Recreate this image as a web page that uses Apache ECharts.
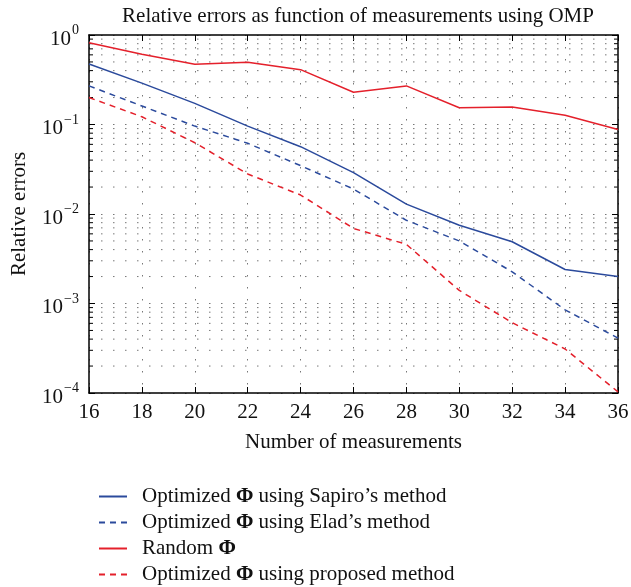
<!DOCTYPE html>
<html>
<head>
<meta charset="utf-8">
<script src="https://cdn.jsdelivr.net/npm/echarts@6/dist/echarts.min.js"></script>
<style>
  html, body { margin: 0; padding: 0; background: #fff; }
  #chart { width: 631px; height: 587px; }
</style>
</head>
<body>
<div id="chart"></div>
<script>
// values
const measurements = [16, 18, 20, 22, 24, 26, 28, 30, 32, 34, 36]
const sapiro = [0.474, 0.29, 0.172, 0.096, 0.0565, 0.029, 0.0129, 0.0075, 0.0049, 0.0024, 0.002]
const elad = [0.27, 0.161, 0.096, 0.0617, 0.0347, 0.019, 0.0085, 0.005, 0.00226, 0.00085, 0.00041]
const random = [0.82, 0.61, 0.47, 0.495, 0.41, 0.229, 0.27, 0.154, 0.157, 0.127, 0.088]
const proposed = [0.2, 0.122, 0.0626, 0.028, 0.0163, 0.0069, 0.00458, 0.0014, 0.00061, 0.00031, 0.000103]

const decades = [1e-4, 1e-3, 1e-2, 1e-1]
const minorSteps = [2, 3, 4, 5, 6, 7, 8, 9]
const exponentLabels = { '1': '0', '0.1': '−1', '0.01': '−2', '0.001': '−3', '0.0001': '−4' }

const names = [
  'Optimized Φ using Sapiro’s method',
  'Optimized Φ using Elad’s method',
  'Random Φ',
  'Optimized Φ using proposed method',
]

const RED = '#e4202b'
const BLUE = '#2b4a9c'
const FONT = 'Liberation Serif'
const FS = 21

const pairs = ys => measurements.map((x, i) => [x, ys[i]])
const minorVals = []
decades.forEach(d => minorSteps.forEach(m => minorVals.push([measurements[0], +(d * m).toPrecision(3)])))

const chart = echarts.init(document.getElementById('chart'))

const dotted = { color: '#777', type: [1.5, 10.5], width: 1 }

function lineSeries(name, data, color, dashed) {
  return {
    name,
    type: 'line',
    data: pairs(data),
    showSymbol: false,
    symbol: 'none',
    lineStyle: { color, width: 1.5, type: dashed ? [6, 5] : 'solid' },
    itemStyle: { color },
    silent: true,
    z: 5,
  }
}

const option = {
  animation: false,
  textStyle: { fontFamily: FONT },
  title: {
    text: 'Relative errors as function of measurements using OMP',
    left: 353,
    top: 1,
    textAlign: 'center',
    textStyle: { fontFamily: FONT, fontSize: FS, fontWeight: 'normal', color: '#111' },
  },
  grid: { left: 89, right: 13, top: 35, bottom: 194, outerBoundsMode: 'none', containLabel: false },
  legend: {
    orient: 'vertical',
    left: 98,
    top: 486,
    height: 120,
    padding: 0,
    itemWidth: 28,
    itemHeight: 14,
    itemGap: 5,
    data: names,
    itemStyle: { opacity: 0 },
    textStyle: {
      fontFamily: FONT,
      fontSize: FS,
      lineHeight: 16,
      color: '#111',
      padding: [0, 0, 0, 10],
      rich: { p: { fontFamily: FONT, fontSize: FS, lineHeight: 16, fontWeight: 'bold', color: '#111' } },
    },
    formatter: n => n.replace('Φ', '{p|Φ}'),
  },
  xAxis: [
    {
      type: 'value',
      min: 16,
      max: 36,
      interval: 2,
      name: 'Number of measurements',
      nameLocation: 'middle',
      nameGap: 39,
      nameTextStyle: { fontFamily: FONT, fontSize: FS, color: '#111' },
      axisLine: { onZero: false, lineStyle: { color: '#000', width: 1.5 } },
      axisTick: { inside: true, length: 6, lineStyle: { color: '#000' } },
      axisLabel: { fontFamily: FONT, fontSize: FS, color: '#111', margin: 9 },
      splitLine: { show: true, lineStyle: dotted },
    },
    {
      type: 'value',
      position: 'top',
      min: 16,
      max: 36,
      interval: 2,
      axisLine: { onZero: false, lineStyle: { color: '#000', width: 1.5 } },
      axisTick: { inside: true, length: 6, lineStyle: { color: '#000' } },
      axisLabel: { show: false },
      splitLine: { show: false },
    },
  ],
  yAxis: [
    {
      type: 'log',
      logBase: 10,
      min: 1e-4,
      max: 1,
      name: 'Relative errors',
      nameLocation: 'middle',
      nameGap: 59,
      nameTextStyle: { fontFamily: FONT, fontSize: FS, color: '#111' },
      axisLine: { show: true, lineStyle: { color: '#000', width: 1.5 } },
      axisTick: { inside: true, length: 6, lineStyle: { color: '#000' } },
      axisLabel: {
        fontFamily: FONT,
        fontSize: FS,
        color: '#111',
        margin: 10,
        formatter: v => '{b|10}{s|' + exponentLabels[String(+v.toPrecision(3))] + '}',
        rich: {
          b: { fontFamily: FONT, fontSize: FS, color: '#111', padding: [8, 0, 0, 0] },
          s: { fontFamily: FONT, fontSize: 14, color: '#111', padding: [0, 0, 9, 1] },
        },
      },
      splitLine: { show: true, lineStyle: dotted },
    },
    {
      type: 'log',
      logBase: 10,
      min: 1e-4,
      max: 1,
      position: 'right',
      axisLine: { show: true, lineStyle: { color: '#000', width: 1.5 } },
      axisTick: { inside: true, length: 6, lineStyle: { color: '#000' } },
      axisLabel: { show: false },
      splitLine: { show: false },
    },
  ],
  series: [
    {
      // minor decade grid lines + ticks on both sides
      type: 'custom',
      silent: true,
      z: 1,
      data: minorVals,
      renderItem: (params, api) => {
        const v = api.value(1)
        const a = api.coord([measurements[0], v])
        const b = api.coord([measurements[measurements.length - 1], v])
        return {
          type: 'group',
          children: [
            { type: 'line', shape: { x1: a[0] + 12, y1: a[1], x2: b[0], y2: b[1] }, style: { stroke: '#777', lineWidth: 1, lineDash: [1.5, 10.5] } },
            { type: 'line', shape: { x1: a[0], y1: a[1], x2: a[0] + 4, y2: a[1] }, style: { stroke: '#000', lineWidth: 1 } },
            { type: 'line', shape: { x1: b[0] - 4, y1: b[1], x2: b[0], y2: b[1] }, style: { stroke: '#000', lineWidth: 1 } },
          ],
        }
      },
    },
    lineSeries(names[0], sapiro, BLUE, false),
    lineSeries(names[1], elad, BLUE, true),
    lineSeries(names[2], random, RED, false),
    lineSeries(names[3], proposed, RED, true),
  ],
}

chart.setOption(option)
</script>
</body>
</html>
